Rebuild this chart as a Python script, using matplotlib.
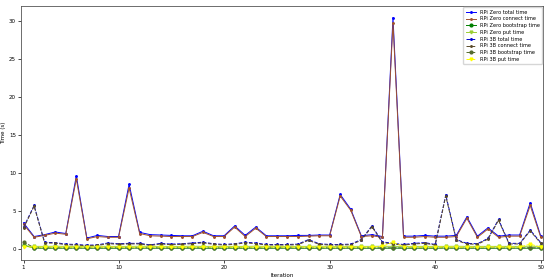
import matplotlib.pyplot as plt
import numpy as np

iterations = list(range(1, 51))

zero_total = [3.4, 1.6, 1.85, 2.2, 2.0, 9.6, 1.4, 1.75, 1.6, 1.6,
              8.5, 2.15, 1.85, 1.8, 1.75, 1.7, 1.7, 2.3, 1.7, 1.7,
              3.0, 1.75, 2.85, 1.7, 1.7, 1.7, 1.75, 1.75, 1.8, 1.8,
              7.15, 5.2, 1.7, 1.85, 1.6, 30.5, 1.65, 1.65, 1.75, 1.65,
              1.65, 1.75, 4.2, 1.65, 2.75, 1.65, 1.8, 1.8, 6.05, 1.65]
zero_connect = [3.2, 1.5, 1.75, 2.05, 1.9, 9.2, 1.3, 1.6, 1.5, 1.5,
                8.0, 2.0, 1.7, 1.65, 1.6, 1.6, 1.6, 2.15, 1.6, 1.6,
                2.85, 1.6, 2.7, 1.6, 1.6, 1.6, 1.6, 1.65, 1.7, 1.7,
                6.95, 5.05, 1.6, 1.7, 1.5, 29.8, 1.5, 1.5, 1.6, 1.5,
                1.5, 1.6, 4.0, 1.5, 2.6, 1.5, 1.65, 1.65, 5.7, 1.5]
zero_boot = [0.45, 0.08, 0.06, 0.07, 0.06, 0.08, 0.06, 0.07, 0.06, 0.06,
             0.07, 0.08, 0.06, 0.07, 0.06, 0.06, 0.07, 0.06, 0.06, 0.07,
             0.06, 0.07, 0.06, 0.06, 0.06, 0.07, 0.06, 0.06, 0.06, 0.07,
             0.06, 0.07, 0.06, 0.06, 0.06, 0.07, 0.06, 0.06, 0.07, 0.06,
             0.08, 0.06, 0.07, 0.06, 0.06, 0.06, 0.07, 0.06, 0.06, 0.07]
zero_put = [0.35, 0.3, 0.3, 0.32, 0.3, 0.3, 0.3, 0.32, 0.3, 0.3,
            0.3, 0.32, 0.3, 0.3, 0.3, 0.3, 0.32, 0.3, 0.3, 0.3,
            0.3, 0.3, 0.32, 0.3, 0.3, 0.3, 0.3, 0.3, 0.32, 0.3,
            0.3, 0.3, 0.3, 0.3, 0.32, 0.3, 0.3, 0.3, 0.3, 0.3,
            0.3, 0.32, 0.3, 0.3, 0.3, 0.3, 0.3, 0.3, 0.32, 0.3]

b3_total = [2.8, 5.7, 0.83, 0.8, 0.6, 0.55, 0.45, 0.5, 0.75, 0.65,
            0.7, 0.7, 0.5, 0.7, 0.6, 0.65, 0.75, 0.85, 0.65, 0.55,
            0.65, 0.85, 0.75, 0.55, 0.55, 0.55, 0.6, 1.2, 0.65, 0.55,
            0.55, 0.6, 1.2, 3.0, 0.9, 0.7, 0.55, 0.7, 0.8, 0.55,
            7.1, 1.2, 0.7, 0.65, 1.35, 3.85, 0.7, 0.7, 2.45, 0.8]
b3_connect = [2.7, 5.6, 0.75, 0.72, 0.52, 0.48, 0.38, 0.42, 0.66, 0.57,
              0.62, 0.62, 0.42, 0.62, 0.52, 0.57, 0.66, 0.76, 0.57, 0.48,
              0.57, 0.76, 0.66, 0.48, 0.48, 0.48, 0.52, 1.1, 0.57, 0.48,
              0.48, 0.52, 1.1, 2.9, 0.8, 0.62, 0.48, 0.62, 0.7, 0.48,
              6.95, 1.1, 0.62, 0.57, 1.25, 3.75, 0.62, 0.62, 2.35, 0.7]
b3_boot = [0.9, 0.12, 0.1, 0.12, 0.1, 0.1, 0.11, 0.1, 0.1, 0.12,
           0.1, 0.1, 0.11, 0.1, 0.1, 0.1, 0.12, 0.1, 0.1, 0.1,
           0.11, 0.1, 0.1, 0.1, 0.12, 0.1, 0.1, 0.1, 0.11, 0.1,
           0.1, 0.1, 0.12, 0.1, 0.1, 0.1, 0.11, 0.1, 0.1, 0.1,
           0.12, 0.1, 0.1, 0.1, 0.11, 0.1, 0.1, 0.1, 0.12, 0.1]
b3_put = [0.25, 0.2, 0.2, 0.22, 0.2, 0.2, 0.2, 0.2, 0.22, 0.2,
          0.2, 0.2, 0.2, 0.22, 0.2, 0.2, 0.2, 0.2, 0.22, 0.2,
          0.2, 0.2, 0.2, 0.22, 0.2, 0.2, 0.2, 0.2, 0.22, 0.2,
          0.2, 0.2, 0.2, 0.22, 0.3, 0.85, 0.25, 0.2, 0.2, 0.2,
          0.22, 0.2, 0.2, 0.2, 0.2, 0.22, 0.2, 0.2, 0.6, 0.2]

plt.rcParams['font.size'] = 4

fig = plt.figure(figsize=(5.5, 2.79), dpi=100)
ax = fig.add_axes([0.038, 0.068, 0.95, 0.91])

# RPi Zero: solid lines
ax.plot(iterations, zero_total, color='blue', marker='.', ms=2.2, lw=0.7, label='RPi Zero total time')
ax.plot(iterations, zero_connect, color='sienna', marker='.', ms=2.2, lw=0.7, label='RPi Zero connect time')
ax.plot(iterations, zero_boot, color='green', marker='o', ms=2, lw=0.7, label='RPi Zero bootstrap time')
ax.plot(iterations, zero_put, color='yellowgreen', marker='v', ms=2, lw=0.7, label='RPi Zero put time')
# RPi 3B: dashed lines
ax.plot(iterations, b3_total, color='mediumblue', marker='.', ms=2.2, lw=0.7, ls='--', label='RPi 3B total time')
ax.plot(iterations, b3_connect, color='#5a4a2a', marker='.', ms=2.2, lw=0.7, ls='--', label='RPi 3B connect time')
ax.plot(iterations, b3_boot, color='darkolivegreen', marker='o', ms=2, lw=0.7, ls='--', label='RPi 3B bootstrap time')
ax.plot(iterations, b3_put, color='yellow', marker='v', ms=2, lw=0.7, ls='--', label='RPi 3B put time')

ax.set_xlim(0.75, 50.25)
ax.set_ylim(-1.5, 32.0)
ax.set_xticks([1, 10, 20, 30, 40, 50])
ax.set_xlabel('Iteration', labelpad=2)
ax.set_ylabel('Time (s)', labelpad=2)
ax.tick_params(length=2, width=0.5, pad=1.5)
for s in ax.spines.values():
    s.set_linewidth(0.6)
    s.set_color('#555555')

ax.legend(loc='upper right', fontsize=3.6, handlelength=2, borderpad=0.5,
          labelspacing=0.35, borderaxespad=0.2)

fig.savefig('out.png', dpi=100)
